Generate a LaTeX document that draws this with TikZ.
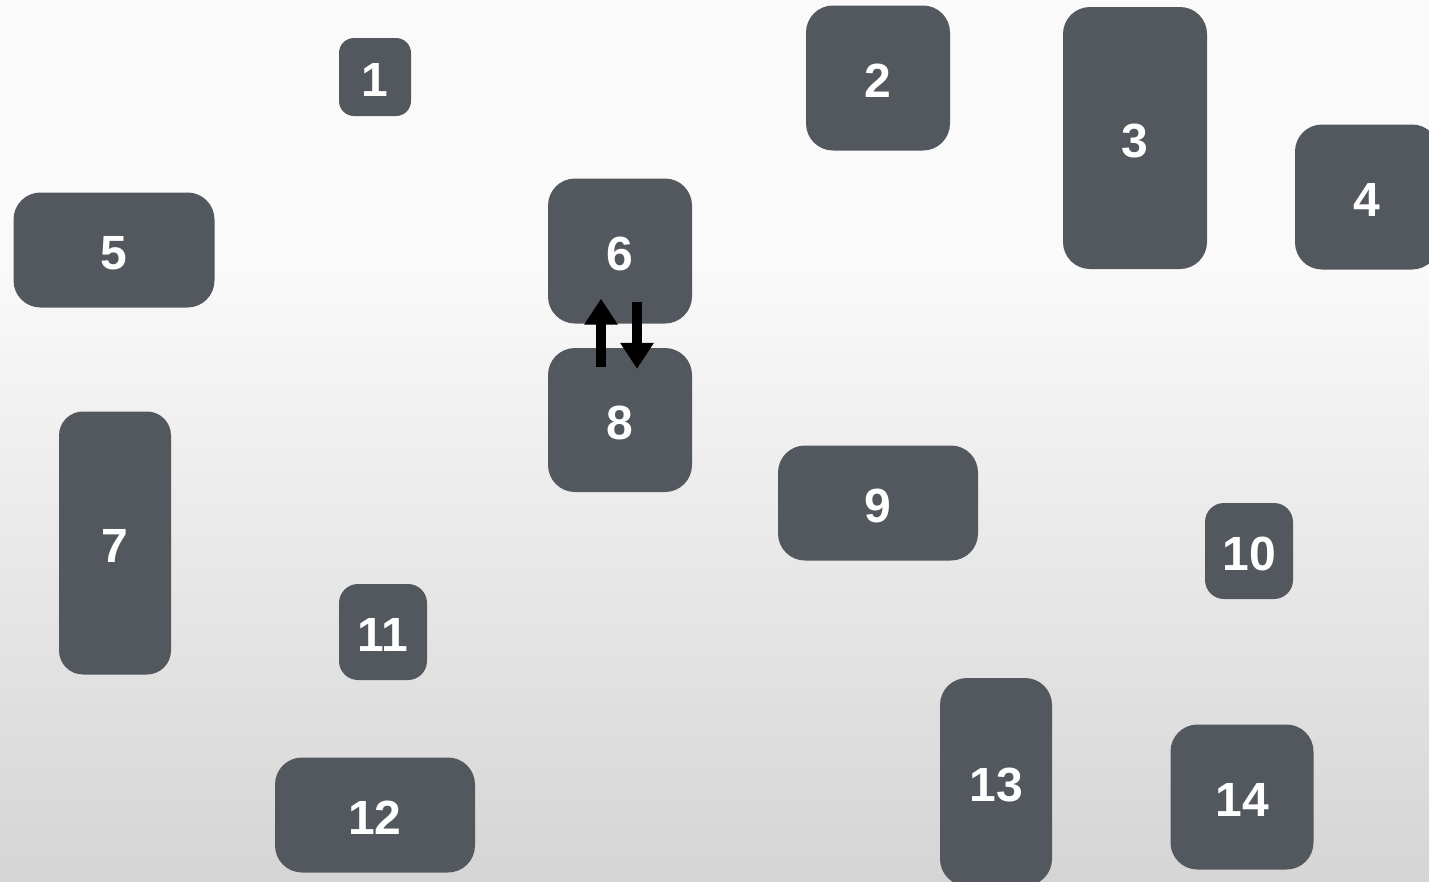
\documentclass[tikz,border=0pt]{standalone}
\usepackage{fontspec}
\setmainfont{Liberation Sans}
\usetikzlibrary{arrows.meta}
\definecolor{slate}{HTML}{53575E}
\definecolor{bgtop}{HTML}{FAFAFA}
\definecolor{bgbot}{HTML}{D5D5D5}
\tikzset{
  block/.style={fill=slate, text=white, inner sep=0pt, rounded corners=#1,
    text height=39pt, text depth=0pt, font=\fontsize{48}{52}\selectfont\bfseries},
  block/.default=27pt,
  swap/.style={-{Triangle[width=32pt, length=26pt]}, line width=10pt, black},
}

\begin{document}
\begin{tikzpicture}[x=1pt, y=-1pt]
  % page and background
  \useasboundingbox (0,0) rectangle (1429,881);
  \clip (0,0) rectangle (1429,881);
  \fill[bgtop] (0,0) rectangle (1429,881);
  \shade[top color=bgtop, bottom color=bgbot] (0,260) rectangle (1429,881);
  % blocks
  \node[block=15pt, minimum width=72pt, minimum height=78pt] (n1) at (375,77) {1};
  \node[block, minimum width=144pt, minimum height=145pt] (n2) at (878,78) {2};
  \node[block, minimum width=144pt, minimum height=262pt] (n3) at (1135,138) {3};
  \node[block, minimum width=144pt, minimum height=145pt] (n4) at (1367,197) {4};
  \node[block, minimum width=201pt, minimum height=115pt] (n5) at (114,250) {5};
  \node[block, minimum width=144pt, minimum height=145pt] (n6) at (620,251) {6};
  \node[block=24pt, minimum width=112pt, minimum height=263pt] (n7) at (115,543) {7};
  \node[block, minimum width=144pt, minimum height=144pt] (n8) at (620,420) {8};
  \node[block, minimum width=200pt, minimum height=115pt] (n9) at (878,503) {9};
  \node[block=19pt, minimum width=88pt, minimum height=96pt] (n10) at (1249,551) {10};
  \node[block=19pt, minimum width=88pt, minimum height=96pt] (n11) at (383,632) {11};
  \node[block, minimum width=200pt, minimum height=115pt] (n12) at (375,815) {12};
  \node[block, minimum width=112pt, minimum height=208pt] (n13) at (996,782) {13};
  \node[block, minimum width=143pt, minimum height=145pt] (n14) at (1242,797) {14};
  % two-way link between 6 and 8
  \draw[swap] ([xshift=-19pt, yshift=-19pt]n8.north) -- ([xshift=-19pt, yshift=25pt]n6.south);
  \draw[swap] ([xshift=17pt, yshift=22pt]n6.south) -- ([xshift=17pt, yshift=-21pt]n8.north);
\end{tikzpicture}
\end{document}
